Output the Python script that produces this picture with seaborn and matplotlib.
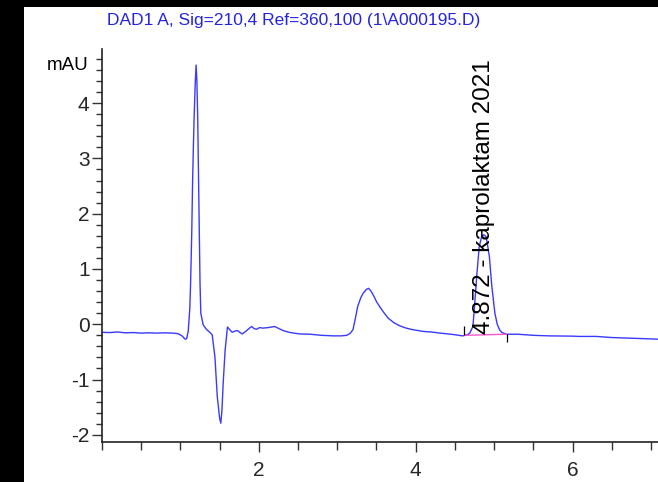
import pandas as pd
import matplotlib
matplotlib.use("Agg")
import matplotlib.pyplot as plt
from matplotlib.patches import Rectangle
from matplotlib.ticker import MultipleLocator, FixedLocator
import seaborn as sns

# Chromatogram trace (min, mAU)
zeit = [0.00, 0.10, 0.20, 0.30, 0.40, 0.50, 0.60, 0.70, 0.80, 0.90, 0.97,
        1.02, 1.06, 1.08, 1.10, 1.12, 1.13, 1.145, 1.155, 1.165, 1.175, 1.19,
        1.20, 1.21, 1.22, 1.235, 1.25, 1.26, 1.29, 1.33, 1.37, 1.405, 1.44,
        1.47, 1.50, 1.515, 1.53, 1.545, 1.57, 1.60, 1.63, 1.66, 1.70, 1.73,
        1.76, 1.79, 1.84, 1.88, 1.91, 1.94, 1.97, 2.01, 2.05, 2.12, 2.20,
        2.26, 2.31, 2.40, 2.52, 2.65, 2.80, 2.95, 3.05, 3.12, 3.16, 3.20,
        3.23, 3.26, 3.30, 3.33, 3.37, 3.40, 3.43, 3.47, 3.50, 3.54, 3.60,
        3.65, 3.72, 3.80, 3.88, 3.97, 4.10, 4.20, 4.31, 4.45, 4.60, 4.66,
        4.69, 4.73, 4.75, 4.78, 4.81, 4.84, 4.87, 4.90, 4.94, 4.97, 5.01,
        5.04, 5.07, 5.10, 5.16, 5.30, 5.50, 5.70, 6.00, 6.09, 6.30, 6.50,
        6.70, 6.90, 7.09]
signal = [-0.145, -0.15, -0.14, -0.155, -0.15, -0.16, -0.155, -0.16, -0.155, -0.16, -0.17,
          -0.21, -0.27, -0.26, -0.12, 0.30, 0.75, 1.70, 2.56, 3.20, 3.76, 4.40,
          4.69, 4.40, 3.76, 2.25, 0.74, 0.20, -0.01, -0.09, -0.14, -0.19, -0.59,
          -1.31, -1.70, -1.79, -1.55, -1.07, -0.47, -0.05, -0.10, -0.145, -0.12, -0.115,
          -0.15, -0.175, -0.12, -0.07, -0.04, -0.08, -0.09, -0.06, -0.07, -0.06, -0.04,
          -0.08, -0.115, -0.15, -0.175, -0.18, -0.20, -0.21, -0.21, -0.20, -0.17, -0.10,
          0.10, 0.32, 0.48, 0.56, 0.63, 0.65, 0.60, 0.50, 0.41, 0.32, 0.20,
          0.11, 0.03, -0.03, -0.07, -0.10, -0.13, -0.14, -0.16, -0.18, -0.21, -0.19,
          -0.16, -0.04, 0.32, 0.90, 1.40, 1.58, 1.62, 1.58, 1.22, 0.70, 0.20,
          0.00, -0.10, -0.15, -0.18, -0.18, -0.20, -0.21, -0.215, -0.22, -0.22, -0.24,
          -0.25, -0.26, -0.27]

# integrated peak
rt_label = 4.872
peak_name = "kaprolaktam 2021"
basis_zeit = [4.62, 5.16]
basis_signal = [-0.20, -0.18]

x_ticks = [2, 4, 6]
titel = "DAD1 A, Sig=210,4 Ref=360,100 (1\\A000195.D)"

df = pd.DataFrame({"Zeit": zeit, "Signal": signal})

sns.set_theme(style="white")
plt.rcParams["font.family"] = ["Liberation Sans", "DejaVu Sans"]
plt.rcParams["axes.unicode_minus"] = False

W, H = 658, 482
fig = plt.figure(figsize=(W / 100, H / 100), dpi=100)
fig.patch.set_facecolor("black")
fig.add_artist(Rectangle((24 / W, 0), 1 - 24 / W, 475 / H, transform=fig.transFigure,
                         facecolor="white", edgecolor="none", zorder=-5))

ax = fig.add_axes([102 / W, 40 / H, 1 - 102 / W, 393 / H])
sns.lineplot(data=df, x="Zeit", y="Signal", ax=ax, color="#3a3aff", linewidth=1.0,
             estimator=None, sort=False)

# baseline of the integrated peak + start/end marks
ax.plot(basis_zeit, basis_signal, color="#ff55cc", linewidth=1.0)
ax.vlines(basis_zeit[0], basis_signal[0], basis_signal[0] + 0.16, color="black", linewidth=0.9)
ax.vlines(basis_zeit[1], basis_signal[1] - 0.14, basis_signal[1], color="black", linewidth=0.9)

ax.text(rt_label, -0.17, f"{rt_label:.3f} - {peak_name}", rotation=90, ha="center",
        va="bottom", fontsize=17.5, color="black")

ax.set_xlim(0, 7.09)
ax.set_ylim(-2.13, 4.98)
ax.set_xlabel("")
ax.set_ylabel("")
ax.xaxis.set_major_locator(FixedLocator(x_ticks))
ax.xaxis.set_minor_locator(MultipleLocator(0.5))
ax.yaxis.set_major_locator(MultipleLocator(1))
ax.yaxis.set_minor_locator(MultipleLocator(0.2))
ax.tick_params(axis="x", which="major", direction="out", length=7.5, width=1,
               color="#333333", labelsize=15, pad=6, bottom=True)
ax.tick_params(axis="x", which="minor", direction="out", length=6, width=1,
               color="#333333", bottom=True)
ax.tick_params(axis="y", which="major", direction="out", length=7, width=1,
               color="#333333", labelsize=15, pad=2, left=True)
ax.tick_params(axis="y", which="minor", direction="out", length=4, width=1,
               color="#333333", left=True)
for s in ["top", "right"]:
    ax.spines[s].set_visible(False)
for s in ["left", "bottom"]:
    ax.spines[s].set_color("#222222")
    ax.spines[s].set_linewidth(1.2)

ax.text(-0.025, 4.69, "mAU", transform=ax.get_yaxis_transform(), ha="right",
        va="center", fontsize=13.5, color="black")

fig.text(107 / W, 1 - 20 / H, titel, ha="left", va="center", fontsize=12.5,
         color="#2424e0")

fig.savefig("out.png", dpi=100, facecolor=fig.get_facecolor())
